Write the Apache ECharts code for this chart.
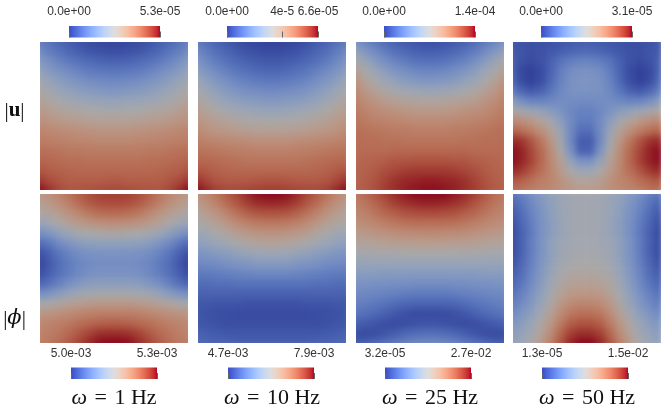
<!DOCTYPE html>
<html><head><meta charset="utf-8">
<script src="https://cdn.jsdelivr.net/npm/echarts@6/dist/echarts.min.js"></script>
<style>html,body{margin:0;padding:0;background:#fff}#c{width:664px;height:410px;background:#fff}</style>
</head><body><div id="c"></div>
<script>
// ---- data: each field is a 16x16 grid (rows top->bottom), values in % of that panel's colour range
const CELLS = [0,1,2,3,4,5,6,7,8,9,10,11,12,13,14,15];
const FREQ_LABELS = ['1','10','25','50'];
const TOP_TICKS = [[0,5.3e-5],[0,4e-5,6.6e-5],[0,1.4e-4],[0,3.1e-5]];
const TOP_TICK_LABELS = [['0.0e+00','5.3e-05'],['0.0e+00','4e-5','6.6e-05'],['0.0e+00','1.4e-04'],['0.0e+00','3.1e-05']];
const BOT_TICKS = [[5.0e-3,5.3e-3],[4.7e-3,7.9e-3],[3.2e-5,2.7e-2],[1.3e-5,1.5e-2]];
const BOT_TICK_LABELS = [['5.0e-03','5.3e-03'],['4.7e-03','7.9e-03'],['3.2e-05','2.7e-02'],['1.3e-05','1.5e-02']];

const U_1HZ = [
[22,17,13,10,7,5,4,3,3,4,5,7,10,13,17,22],
[28,22,18,14,11,8,7,6,6,7,8,11,14,18,22,28],
[35,29,24,20,17,15,13,12,12,13,15,17,20,24,29,35],
[41,35,31,27,24,21,20,19,19,20,21,24,27,31,35,41],
[47,42,37,34,31,28,27,26,26,27,28,31,34,37,42,47],
[52,47,43,40,37,35,34,33,33,34,35,37,40,43,47,52],
[56,52,49,46,44,43,42,41,41,42,43,44,46,49,52,56],
[61,58,55,53,52,50,50,49,49,50,50,52,53,55,58,61],
[65,63,61,59,58,57,56,56,56,56,57,58,59,61,63,65],
[70,68,67,66,65,64,63,63,63,63,64,65,66,67,68,70],
[73,72,71,70,69,69,68,68,68,68,69,69,70,71,72,73],
[77,76,75,74,74,73,73,73,73,73,73,74,74,75,76,77],
[81,79,78,77,77,76,76,76,76,76,76,77,77,78,79,81],
[85,82,81,80,79,79,79,79,79,79,79,79,80,81,82,85],
[92,87,84,82,82,82,82,83,83,82,82,82,82,84,87,92],
[100,94,88,85,85,86,87,88,88,87,86,85,85,88,94,100]];

const U_10HZ = [
[20,16,12,9,6,4,3,2,2,3,4,6,9,12,16,20],
[26,21,16,13,10,7,6,5,5,6,7,10,13,16,21,26],
[32,26,21,17,14,12,10,9,9,10,12,14,17,21,26,32],
[38,32,27,23,19,17,15,14,14,15,17,19,23,27,32,38],
[44,38,33,29,25,23,21,20,20,21,23,25,29,33,38,44],
[49,44,39,35,32,29,28,27,27,28,29,32,35,39,44,49],
[54,49,45,41,38,36,35,34,34,35,36,38,41,45,49,54],
[59,55,51,48,46,44,43,42,42,43,44,46,48,51,55,59],
[63,60,57,55,53,51,51,50,50,51,51,53,55,57,60,63],
[67,64,62,61,59,58,57,57,57,57,58,59,61,62,64,67],
[72,70,69,68,67,66,65,65,65,65,66,67,68,69,70,72],
[76,75,74,73,72,72,71,71,71,71,72,72,73,74,75,76],
[80,79,78,77,76,75,75,75,75,75,75,76,77,78,79,80],
[85,83,81,80,79,79,79,79,79,79,79,79,80,81,83,85],
[93,88,84,83,83,83,84,85,85,84,83,83,83,84,88,93],
[100,95,90,88,88,89,90,91,91,90,89,88,88,90,95,100]];

const U_25HZ = [
[30,24,19,15,11,9,7,6,6,7,9,11,15,19,24,30],
[40,33,27,21,17,14,12,11,11,12,14,17,21,27,33,40],
[50,42,35,29,24,21,18,17,17,18,21,24,29,35,42,50],
[58,50,43,37,32,29,26,25,25,26,29,32,37,43,50,58],
[64,56,50,44,40,36,34,33,33,34,36,40,44,50,56,64],
[68,62,56,52,48,46,44,43,43,44,46,48,52,56,62,68],
[71,66,63,59,57,55,54,53,53,54,55,57,59,63,66,71],
[73,70,67,65,64,62,61,61,61,61,62,64,65,67,70,73],
[75,73,71,70,69,68,67,67,67,67,68,69,70,71,73,75],
[77,76,75,74,73,73,72,72,72,72,73,73,74,75,76,77],
[78,77,77,76,76,75,75,75,75,75,75,76,76,77,77,78],
[78,78,78,78,79,79,79,79,79,79,79,79,78,78,78,78],
[79,80,81,82,84,84,85,85,85,85,84,84,82,81,80,79],
[80,81,83,86,88,90,91,91,91,91,90,88,86,83,81,80],
[80,82,85,89,93,95,96,97,97,96,95,93,89,85,82,80],
[81,83,86,91,94,97,98,99,99,98,97,94,91,86,83,81]];

const U_50HZ = [
[8,7,6,6,7,8,9,10,10,9,8,7,6,6,7,8],
[10,8,6,7,9,11,13,14,14,13,11,9,7,6,8,10],
[12,7,5,7,12,18,22,24,24,22,18,12,7,5,7,12],
[13,4,2,5,13,22,28,30,30,28,22,13,5,2,4,13],
[15,5,2,6,15,24,30,32,32,30,24,15,6,2,5,15],
[22,13,9,12,19,26,30,31,31,30,26,19,12,9,13,22],
[36,28,24,24,26,28,28,27,27,28,28,26,24,24,28,36],
[52,47,43,40,36,31,26,23,23,26,31,36,40,43,47,52],
[68,65,61,55,47,37,27,21,21,27,37,47,55,61,65,68],
[80,77,72,65,56,43,27,16,16,27,43,56,65,72,77,80],
[95,92,84,74,62,47,27,10,10,27,47,62,74,84,92,95],
[99,96,88,78,66,51,31,12,12,31,51,66,78,88,96,99],
[99,96,89,79,68,56,41,30,30,41,56,68,79,89,96,99],
[95,91,84,77,69,60,50,44,44,50,60,69,77,84,91,95],
[84,81,77,72,69,64,58,55,55,58,64,69,72,77,81,84],
[77,75,72,70,68,65,62,60,60,62,65,68,70,72,75,77]];

const PHI_1HZ = [
[62,65,70,76,82,87,90,91,91,90,87,82,76,70,65,62],
[58,61,66,72,78,83,86,87,87,86,83,78,72,66,61,58],
[52,55,59,64,69,74,77,78,78,77,74,69,64,59,55,52],
[42,46,51,56,60,63,65,66,66,65,63,60,56,51,46,42],
[28,33,39,44,48,50,51,52,52,51,50,48,44,39,33,28],
[15,20,27,32,36,38,39,39,39,39,38,36,32,27,20,15],
[6,12,19,24,28,30,31,31,31,31,30,28,24,19,12,6],
[3,9,16,21,25,27,28,28,28,28,27,25,21,16,9,3],
[5,11,17,22,26,29,30,30,30,30,29,26,22,17,11,5],
[12,17,23,29,33,36,37,37,37,37,36,33,29,23,17,12],
[28,31,36,41,45,47,48,48,48,48,47,45,41,36,31,28],
[48,50,53,56,58,60,61,61,61,61,60,58,56,53,50,48],
[62,63,65,67,69,71,72,72,72,72,71,69,67,65,63,62],
[68,70,72,74,77,79,81,82,82,81,79,77,74,72,70,68],
[70,72,75,79,84,89,93,94,94,93,89,84,79,75,72,70],
[72,74,78,83,89,95,99,100,100,99,95,89,83,78,74,72]];

const PHI_10HZ = [
[64,69,76,83,89,95,99,100,100,99,95,89,83,76,69,64],
[60,65,71,78,84,90,94,95,95,94,90,84,78,71,65,60],
[55,59,64,70,76,81,84,85,85,84,81,76,70,64,59,55],
[50,53,57,62,67,71,73,74,74,73,71,67,62,57,53,50],
[44,46,50,54,58,61,63,64,64,63,61,58,54,50,46,44],
[38,40,43,46,49,52,54,55,55,54,52,49,46,43,40,38],
[32,33,35,37,40,42,44,45,45,44,42,40,37,35,33,32],
[26,27,28,30,32,33,35,35,35,35,33,32,30,28,27,26],
[20,21,22,23,24,25,26,26,26,26,25,24,23,22,21,20],
[16,16,17,17,18,18,18,18,18,18,18,18,17,17,16,16],
[12,12,12,12,12,12,12,12,12,12,12,12,12,12,12,12],
[9,9,8,8,8,7,7,7,7,7,7,8,8,8,9,9],
[8,7,6,6,5,5,5,5,5,5,5,5,6,6,7,8],
[9,8,7,6,6,6,6,6,6,6,6,6,6,7,8,9],
[12,11,10,9,9,9,9,9,9,9,9,9,9,10,11,12],
[15,14,13,13,12,12,12,12,12,12,12,12,13,13,14,15]];

const PHI_25HZ = [
[74,78,84,90,95,98,100,100,100,100,98,95,90,84,78,74],
[72,75,80,85,90,93,95,96,96,95,93,90,85,80,75,72],
[69,71,75,79,82,85,86,87,87,86,85,82,79,75,71,69],
[65,67,69,72,74,76,77,77,77,77,76,74,72,69,67,65],
[60,61,63,64,66,67,67,68,68,67,67,66,64,63,61,60],
[54,55,56,57,58,58,59,59,59,59,58,58,57,56,55,54],
[48,48,49,49,49,50,50,50,50,50,50,49,49,49,48,48],
[42,42,42,42,42,42,42,42,42,42,42,42,42,42,42,42],
[36,36,36,35,35,35,35,35,35,35,35,35,35,36,36,36],
[31,31,30,30,29,29,28,28,28,28,29,29,30,30,31,31],
[27,26,25,24,23,22,21,21,21,21,22,23,24,25,26,27],
[23,22,20,18,16,14,13,13,13,13,14,16,18,20,22,23],
[19,17,15,12,9,7,5,5,5,5,7,9,12,15,17,19],
[12,10,8,6,5,6,7,8,8,7,6,5,6,8,10,12],
[6,5,6,8,11,14,16,17,17,16,14,11,8,6,5,6],
[10,12,15,18,21,24,26,27,27,26,24,21,18,15,12,10]];

const PHI_50HZ = [
[20,24,30,36,41,45,47,48,48,47,45,41,36,30,24,20],
[13,19,26,33,39,43,46,47,47,46,43,39,33,26,19,13],
[9,16,24,31,38,43,46,47,47,46,43,38,31,24,16,9],
[6,14,22,30,37,42,46,47,47,46,42,37,30,22,14,6],
[5,12,21,30,37,42,46,47,47,46,42,37,30,21,12,5],
[5,12,22,31,39,44,46,47,47,46,44,39,31,22,12,5],
[5,12,22,31,39,45,47,48,48,47,45,39,31,22,12,5],
[7,14,23,32,40,46,49,50,50,49,46,40,32,23,14,7],
[10,16,25,34,42,49,52,53,53,52,49,42,34,25,16,10],
[13,19,27,36,45,52,56,57,57,56,52,45,36,27,19,13],
[17,23,30,39,48,56,61,62,62,61,56,48,39,30,23,17],
[22,27,34,42,52,61,67,69,69,67,61,52,42,34,27,22],
[27,32,38,47,57,67,74,77,77,74,67,57,47,38,32,27],
[33,37,43,52,62,73,82,85,85,82,73,62,52,43,37,33],
[37,41,47,56,67,80,90,94,94,90,80,67,56,47,41,37],
[40,44,50,60,72,85,96,100,100,96,85,72,60,50,44,40]];

const PANELS = [U_1HZ, U_10HZ, U_25HZ, U_50HZ, PHI_1HZ, PHI_10HZ, PHI_25HZ, PHI_50HZ];

// ---- styles
const COOLWARM = [[59,76,192],[68,90,204],[77,104,215],[87,117,225],[98,130,234],[108,142,241],[119,154,247],[130,165,251],[141,176,254],[152,185,255],[163,194,255],[174,201,253],[184,208,249],[194,213,244],[204,217,238],[213,219,230],[221,221,221],[229,216,209],[236,211,197],[241,204,185],[245,196,173],[247,187,160],[247,177,148],[247,166,135],[244,154,123],[241,141,111],[236,127,99],[229,112,88],[222,96,77],[213,80,66],[203,62,56],[192,40,47],[180,4,38]];
const SHADE = 0.76;
const BAR_COLORS = COOLWARM.map(c => `rgb(${c[0]},${c[1]},${c[2]})`);
const PANEL_COLORS = COOLWARM.map(c => `rgb(${Math.round(c[0]*SHADE)},${Math.round(c[1]*SHADE)},${Math.round(c[2]*SHADE)})`);

const W = 664, H = 410;
const PL = [40,198,356,513], PT = [42,194], PH = [148,149], PW = 148;
const EXT = 6;          // heatmap drawn slightly beyond the visible panel, then clipped
const BLUR = 3.5;       // smooth shading (rendering style only)
const CBT = {lefts:[69,227,384,541], top:26, width:91, height:11.5};
const CBB = {lefts:[71,228,385,542], top:367.5, width:86, height:11.5};
const SERIF = 'Liberation Serif, DejaVu Serif, serif';

const chart = echarts.init(document.getElementById('c'));
const grid = [], xAxis = [], yAxis = [], series = [], visualMap = [], graphic = [];

PANELS.forEach((field, p) => {
  const col = p % 4, row = p >> 2;
  grid.push({left: PL[col] - EXT, top: PT[row] - EXT, width: PW + 2 * EXT, height: PH[row] + 2 * EXT});
  xAxis.push({gridIndex: p, type: 'category', data: CELLS, show: false});
  yAxis.push({gridIndex: p, type: 'category', data: CELLS, inverse: true, show: false});
  const data = [];
  field.forEach((vals, r) => vals.forEach((v, c) => data.push([c, r, v])));
  series.push({type: 'heatmap', xAxisIndex: p, yAxisIndex: p, data, silent: true, zlevel: p + 1});
  visualMap.push({type: 'continuous', show: false, seriesIndex: p, dimension: 2, min: 0, max: 100, inRange: {color: PANEL_COLORS}});
});

const stops = BAR_COLORS.map((c, i) => ({offset: i / (BAR_COLORS.length - 1), color: c}));
for (let k = 0; k < 8; k++) {
  const gi = 8 + k;
  const isTop = k < 4, col = k % 4;
  const cb = isTop ? CBT : CBB;
  const ticks = isTop ? TOP_TICKS[col] : BOT_TICKS[col];
  const labels = isTop ? TOP_TICK_LABELS[col] : BOT_TICK_LABELS[col];
  grid.push({left: cb.lefts[col], top: cb.top, width: cb.width, height: cb.height});
  xAxis.push({
    gridIndex: gi, type: 'value', position: 'top',
    min: ticks[0], max: ticks[ticks.length - 1],
    axisLine: {show: false}, splitLine: {show: false},
    axisTick: {show: true, customValues: ticks, length: 6, lineStyle: {color: '#666', width: 1}},
    axisLabel: {show: true, customValues: ticks, margin: 8, fontSize: 12,
      fontFamily: 'Liberation Sans, Arial, sans-serif', color: '#333',
      formatter: v => {
        let best = 0;
        ticks.forEach((t, i) => { if (Math.abs(t - v) < Math.abs(ticks[best] - v)) best = i; });
        return labels[best];
      }}
  });
  yAxis.push({gridIndex: gi, type: 'value', show: false, min: 0, max: 1});
  graphic.push({type: 'rect', silent: true,
    shape: {x: cb.lefts[col], y: cb.top, width: cb.width, height: cb.height},
    style: {fill: new echarts.graphic.LinearGradient(0, 0, 1, 0, stops)}});
  if (!isTop) {
    graphic.push({type: 'text', silent: true, x: PL[col] + PW / 2, y: 398,
      style: {text: '{i|ω} {e|=} ' + FREQ_LABELS[col] + ' Hz', fontSize: 22, fontFamily: SERIF,
        fill: '#111', align: 'center', verticalAlign: 'middle',
        rich: {i: {fontStyle: 'italic', fontSize: 22, fontFamily: SERIF},
               e: {fontSize: 22, fontFamily: SERIF, padding: [0, 2, 0, 2]}}}});
  }
}
graphic.push({type: 'text', silent: true, x: 14.5, y: 111,
  style: {text: '|{b|u}|', fontSize: 21, fontFamily: SERIF, fill: '#111',
    align: 'center', verticalAlign: 'middle',
    rich: {b: {fontWeight: 'bold', fontSize: 21, fontFamily: SERIF}}}});
graphic.push({type: 'text', silent: true, x: 14.5, y: 319,
  style: {text: '|{i|ϕ}|', fontSize: 21, fontFamily: SERIF, fill: '#111',
    align: 'center', verticalAlign: 'middle',
    rich: {i: {fontStyle: 'italic', fontSize: 21, fontFamily: 'DejaVu Serif, Liberation Serif, serif'}}}});

chart.setOption({animation: false, backgroundColor: 'transparent', grid, xAxis, yAxis, series, visualMap, graphic});

// smooth-shade each panel layer and clip it to the panel's visible square
const painter = chart.getZr().painter;
PANELS.forEach((field, p) => {
  const col = p % 4, row = p >> 2;
  const layer = painter.getLayer ? painter.getLayer(p + 1) : null;
  if (layer && layer.dom) {
    const top = PT[row], left = PL[col], right = W - (PL[col] + PW), bottom = H - (PT[row] + PH[row]);
    layer.dom.style.filter = `blur(${BLUR}px)`;
    layer.dom.style.clipPath = `inset(${top}px ${right}px ${bottom}px ${left}px)`;
  }
});
</script></body></html>
